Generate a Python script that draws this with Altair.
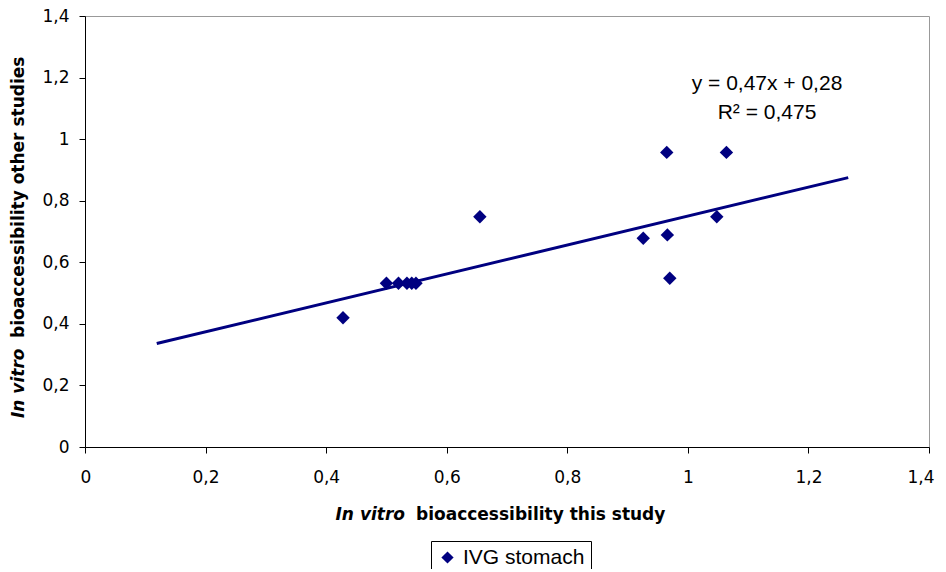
import altair as alt
import pandas as pd

# ---- data ----
X_THIS = [0.428, 0.500, 0.520, 0.534, 0.542, 0.549, 0.655, 0.926, 0.966, 0.970, 1.048, 0.965, 1.064]
Y_OTHER = [0.420, 0.532, 0.532, 0.532, 0.532, 0.532, 0.748, 0.678, 0.689, 0.548, 0.748, 0.957, 0.957]
SERIES = "IVG stomach"
SLOPE = [0.47]
INTERCEPT = [0.28]
TREND_X = [0.119, 1.266]
TICKS = [0, 0.2, 0.4, 0.6, 0.8, 1, 1.2, 1.4]
EQ_LINES = ["y = 0,47x + 0,28", "R\u00b2 = 0,475"]
X_TITLE = ["In vitro", "bioaccessibility this study"]
Y_TITLE = ["In vitro", "bioaccessibility other studies"]

NAVY = "#000080"
LABEL_EXPR = "replace(format(datum.value, '.1~f'), '.', ',')"

xs = alt.Scale(domain=[0, 1.4], nice=False, zero=False)
ys = alt.Scale(domain=[0, 1.4], nice=False, zero=False)

common_axis = dict(
    values=TICKS, labelExpr=LABEL_EXPR, title=None, grid=False,
    domainColor="black", domainWidth=1, tickColor="black", tickWidth=1, tickSize=6,
    labelFont="DejaVu Sans", labelFontSize=17, labelColor="black",
    labelOverlap=False,
)
xaxis = alt.Axis(labelPadding=16, labelFlush=True, labelFlushOffset=5, **common_axis)
yaxis = alt.Axis(labelPadding=10, labelFlush=False, **common_axis)

pts = pd.DataFrame({"x": X_THIS, "y": Y_OTHER, "series": [SERIES] * len(X_THIS)})
trend_df = pd.DataFrame({"x": TREND_X, "slope": SLOPE * len(TREND_X), "intercept": INTERCEPT * len(TREND_X)})

trend = (
    alt.Chart(trend_df)
    .transform_calculate(y="datum.slope * datum.x + datum.intercept")
    .mark_line(color=NAVY, strokeWidth=3)
    .encode(x=alt.X("x:Q", scale=xs, axis=xaxis), y=alt.Y("y:Q", scale=ys, axis=yaxis))
)

points = (
    alt.Chart(pts)
    .mark_point(shape="diamond", filled=True, size=180, opacity=1)
    .encode(
        x=alt.X("x:Q", scale=xs, axis=xaxis),
        y=alt.Y("y:Q", scale=ys, axis=yaxis),
        color=alt.Color(
            "series:N",
            scale=alt.Scale(range=[NAVY]),
            legend=alt.Legend(
                title=None, orient="none", legendX=346, legendY=525,
                strokeColor="black", fillColor="white", padding=6, cornerRadius=0,
                symbolType="diamond", symbolSize=150, symbolStrokeWidth=0,
                labelFont="Liberation Sans", labelFontSize=21, labelColor="black",
                labelOffset=5,
            ),
        ),
    )
)


def text_layer(txt, x, y, **kw):
    return (
        alt.Chart(pd.DataFrame({"t": [txt]}))
        .mark_text(**kw)
        .encode(text="t:N", x=alt.value(x), y=alt.value(y))
    )


title_kw = dict(font="DejaVu Sans", fontSize=17, fontWeight="bold", color="black", baseline="middle")

layers = [
    trend,
    points,
    text_layer(X_TITLE[0], 320, 499, align="right", fontStyle="italic", **title_kw),
    text_layer(X_TITLE[1], 331, 499, align="left", **title_kw),
    text_layer(Y_TITLE[0], -66, 402, align="left", angle=270, fontStyle="italic", **title_kw),
    text_layer(Y_TITLE[1], -66, 322, align="left", angle=270, **title_kw),
    text_layer(EQ_LINES[0], 682, 68, align="center", baseline="middle",
               font="Liberation Sans", fontSize=21, color="black"),
    text_layer(EQ_LINES[1], 682, 97, align="center", baseline="middle",
               font="Liberation Sans", fontSize=21, color="black"),
]

chart = (
    alt.layer(*layers)
    .properties(
        width=844, height=431,
        autosize=alt.AutoSizeParams(type="none"),
        padding={"left": 77, "top": 8, "right": 9, "bottom": 122},
    )
    .configure_view(stroke="#999999", strokeWidth=1)
)

chart.save("out.html", embed_options={"renderer": "svg", "actions": False})
